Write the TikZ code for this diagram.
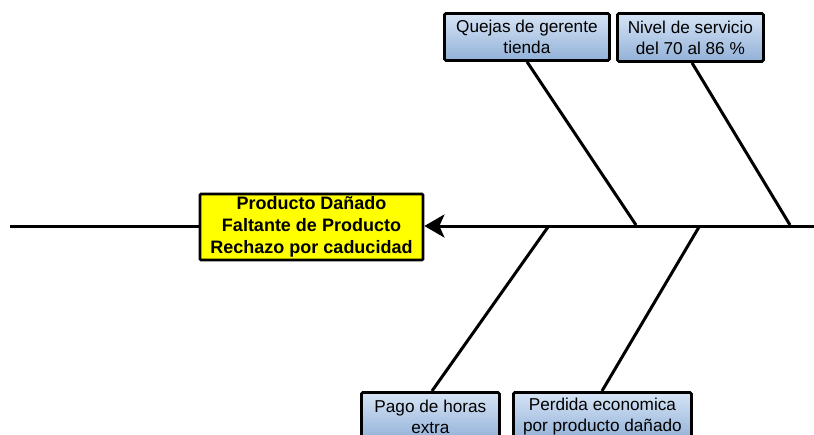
\documentclass[tikz,border=0pt]{standalone}
\usepackage{fontspec}
\setmainfont{Liberation Sans}
\usetikzlibrary{arrows.meta,shadows}
\definecolor{boxtop}{HTML}{D6E4F5}
\definecolor{boxbot}{HTML}{92B1D8}
\definecolor{effyellow}{HTML}{FFFF00}
\tikzset{
  causebox/.style={draw=black, line width=2.8pt, rounded corners=1.5pt,
    top color=boxtop, bottom color=boxbot, align=center, inner sep=0pt,
    font=\fontsize{17.2}{21}\selectfont, anchor=north west},
  effectbox/.style={draw=black, line width=2.8pt, rounded corners=1pt,
    fill=effyellow, align=center, inner sep=0pt,
    font=\bfseries\fontsize{18}{22}\selectfont},
  bone/.style={line width=3pt, line cap=butt},
}
\begin{document}
\begin{tikzpicture}[x=1pt,y=-1pt]
\useasboundingbox (0,0) rectangle (814,434);
% effect box
\node[effectbox, minimum width=223pt, minimum height=66pt] (eff) at (311.5,227)
  {Producto Dañado\\Faltante de Producto\\Rechazo por caducidad};
% cause boxes
\node[causebox, minimum width=165pt, minimum height=47pt] (q) at (443,12)
  {Quejas de gerente\\tienda};
\node[causebox, minimum width=146pt, minimum height=48pt] (n) at (616,12)
  {Nivel de servicio\\del 70 al 86 \%};
\node[causebox, minimum width=138pt, minimum height=48pt] (p) at (360,391)
  {Pago de horas\\extra};
\node[causebox, minimum width=178pt, minimum height=48pt] (d) at (512,391)
  {Perdida economica\\por producto dañado};
% spine
\coordinate (sl) at (10,226);
\coordinate (sr) at (816,226);
\draw[bone] (sl) -- (eff.west |- sl);
\draw[bone, -{Stealth[length=20pt,width=23pt,inset=5pt]}] (sr) -- (eff.east |- sr);
% bones
\coordinate (jq) at (636,225);
\coordinate (jn) at (790,225);
\coordinate (jp) at (548,227);
\coordinate (jd) at (699,227);
\draw[bone] (q.south -| 527,0) -- (jq);
\draw[bone] (n.south -| 692,0) -- (jn);
\draw[bone] (jp) -- (p.north -| 432,0);
\draw[bone] (jd) -- (d.north -| 602,0);
\end{tikzpicture}
\end{document}
